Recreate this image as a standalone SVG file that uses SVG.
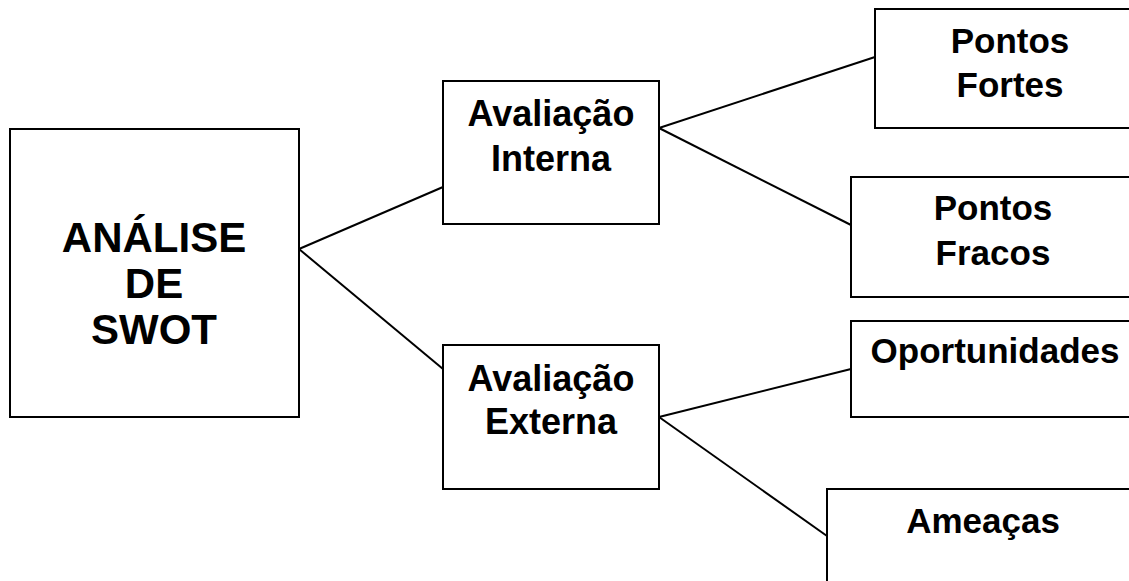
<svg xmlns="http://www.w3.org/2000/svg" width="1129" height="581" viewBox="0 0 1129 581">
<style>
.box{fill:#fff;stroke:#000;stroke-width:2}
.t{font-family:"Liberation Sans",Arial,sans-serif;font-weight:bold;fill:#000;text-anchor:middle}
.big{font-size:42px}
.mid{font-size:36px}
.sm{font-size:35px}
.c{stroke:#000;stroke-width:2;fill:none}
</style>
<rect width="1129" height="581" fill="#fff"/>
<g id="connectors">
<line class="c" x1="299" y1="249" x2="443" y2="187"/>
<line class="c" x1="299" y1="249" x2="443" y2="369"/>
<line class="c" x1="659" y1="128" x2="875" y2="57"/>
<line class="c" x1="659" y1="128" x2="851" y2="225"/>
<line class="c" x1="659" y1="417" x2="851" y2="369"/>
<line class="c" x1="659" y1="417" x2="827" y2="536"/>
</g>
<g id="swot">
<rect class="box" x="10" y="129" width="289" height="288"/>
<text class="t big" x="154" y="252">ANÁLISE</text>
<text class="t big" x="154" y="298">DE</text>
<text class="t big" x="154" y="344">SWOT</text>
</g>
<g id="interna">
<rect class="box" x="443" y="81" width="216" height="143"/>
<text class="t mid" x="551" y="126">Avaliação</text>
<text class="t mid" x="551" y="171">Interna</text>
</g>
<g id="externa">
<rect class="box" x="443" y="345" width="216" height="144"/>
<text class="t mid" x="551" y="391">Avaliação</text>
<text class="t mid" x="551" y="434">Externa</text>
</g>
<g id="fortes">
<rect class="box" x="875" y="9" width="280" height="119"/>
<text class="t sm" x="1010" y="53">Pontos</text>
<text class="t sm" x="1010" y="97">Fortes</text>
</g>
<g id="fracos">
<rect class="box" x="851" y="177" width="300" height="120"/>
<text class="t sm" x="993" y="220">Pontos</text>
<text class="t sm" x="993" y="265">Fracos</text>
</g>
<g id="oportunidades">
<rect class="box" x="851" y="321" width="300" height="96"/>
<text class="t sm" x="995" y="363">Oportunidades</text>
</g>
<g id="ameacas">
<rect class="box" x="827" y="489" width="320" height="120"/>
<text class="t sm" x="983" y="533">Ameaças</text>
</g>
</svg>
